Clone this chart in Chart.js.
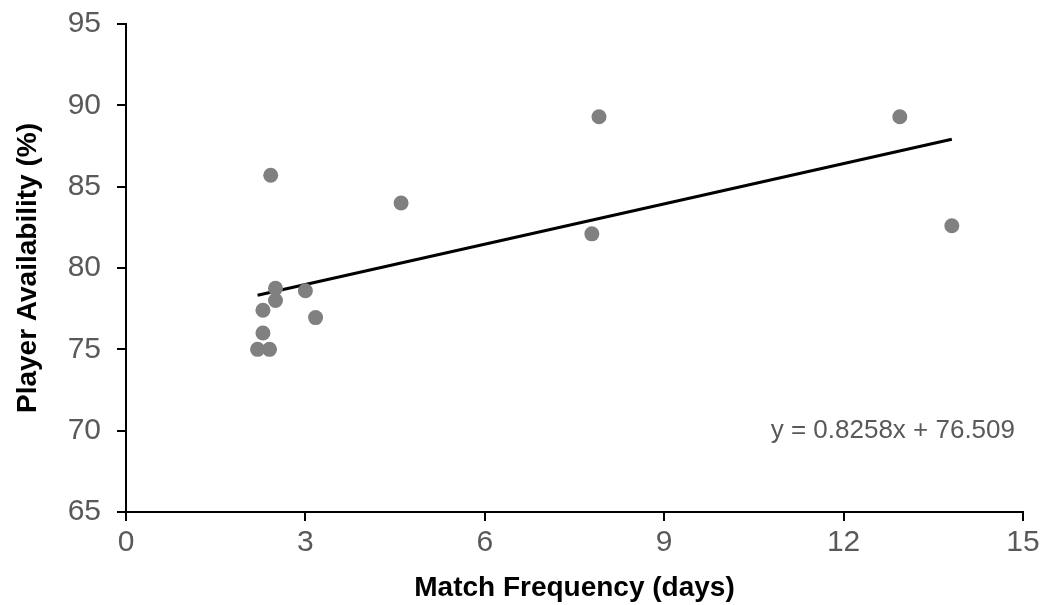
<!DOCTYPE html>
<html>
<head>
<meta charset="utf-8">
<script src="https://cdn.jsdelivr.net/npm/chart.js@4.4.1/dist/chart.umd.min.js"></script>
<style>
  html, body { margin: 0; padding: 0; background: #fff; }
  #wrap { width: 1046px; height: 605px; }
</style>
</head>
<body>
<div id="wrap"><canvas id="chart" width="1046" height="605"></canvas></div>
<script>
// match frequency (days) vs player availability (%)
const freq  = [2.20, 2.40, 2.29, 2.29, 2.42, 2.50, 2.50, 3.00, 3.17, 4.60, 7.79, 7.91, 12.94, 13.81];
const avail = [75.0, 75.0, 76.0, 77.4, 85.7, 78.75, 78.0, 78.6, 76.95, 84.0, 82.1, 89.3, 89.3, 82.6];
const slope = 0.8258;
const intercept = 76.509;
const xTicks = [0, 3, 6, 9, 12, 15];
const yTicks = [65, 70, 75, 80, 85, 90, 95];

const FONT = '"Liberation Sans", Arial, sans-serif';
const xMin = Math.min(...freq), xMax = Math.max(...freq);
const trend = [xMin, xMax].map(x => ({ x, y: slope * x + intercept }));

const equation = {
  id: 'equation',
  afterDraw(chart) {
    const { ctx, chartArea } = chart;
    ctx.save();
    ctx.font = '26px ' + FONT;
    ctx.fillStyle = '#595959';
    ctx.textAlign = 'right';
    ctx.textBaseline = 'middle';
    ctx.fillText('y = ' + slope + 'x + ' + intercept, chartArea.right - 8, chart.scales.y.getPixelForValue(70));
    ctx.restore();
  }
};

const axisGrid = { display: true, drawOnChartArea: false, drawTicks: true, tickLength: 9, color: '#000', lineWidth: 2 };
const axisBorder = { display: true, color: '#000', width: 2 };

new Chart(document.getElementById('chart'), {
  type: 'scatter',
  data: {
    datasets: [
      {
        label: 'Availability',
        data: freq.map((x, i) => ({ x, y: avail[i] })),
        backgroundColor: '#808080',
        borderColor: '#808080',
        pointRadius: 7.5,
        pointHoverRadius: 7.5,
        borderWidth: 0
      },
      {
        type: 'line',
        label: 'Trend',
        data: trend,
        borderColor: '#000',
        borderWidth: 3,
        pointRadius: 0,
        fill: false
      }
    ]
  },
  options: {
    responsive: false,
    animation: false,
    layout: { padding: { left: 0, right: 23, top: 24, bottom: 0 } },
    plugins: { legend: { display: false }, tooltip: { enabled: false } },
    scales: {
      x: {
        type: 'linear',
        min: 0, max: 15,
        afterBuildTicks: s => { s.ticks = xTicks.map(v => ({ value: v })); },
        afterFit: s => { s.height = 93; s.paddingLeft = 0; s.paddingRight = 0; },
        grid: axisGrid,
        border: axisBorder,
        ticks: { color: '#595959', font: { family: FONT, size: 30 }, padding: 4, maxRotation: 0 },
        title: { display: true, text: 'Match Frequency (days)', color: '#000', font: { family: FONT, size: 28, weight: 'bold' }, padding: { top: 0, bottom: 0 } }
      },
      y: {
        min: 65, max: 95,
        afterBuildTicks: s => { s.ticks = yTicks.map(v => ({ value: v })); },
        afterFit: s => { s.width = 126; s.paddingTop = 0; s.paddingBottom = 0; },
        grid: axisGrid,
        border: axisBorder,
        ticks: { color: '#595959', font: { family: FONT, size: 30 }, padding: 16 },
        title: { display: true, text: 'Player Availability (%)', color: '#000', font: { family: FONT, size: 28, weight: 'bold' }, padding: { top: 11, bottom: 0 } }
      }
    }
  },
  plugins: [equation]
});
</script>
</body>
</html>
